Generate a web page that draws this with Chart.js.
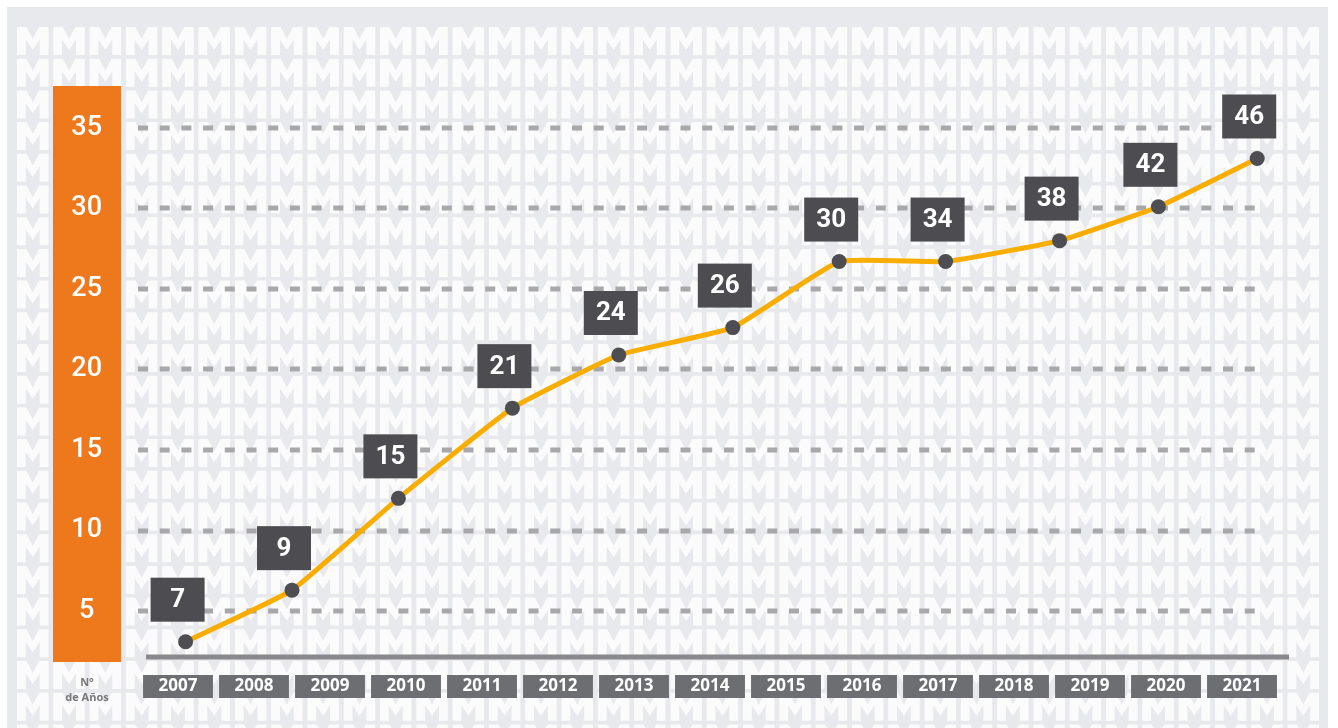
<!DOCTYPE html>
<html>
<head>
<meta charset="utf-8">
<script src="https://cdn.jsdelivr.net/npm/chart.js@4.4.1/dist/chart.umd.min.js"></script>
<style>
  html, body { margin: 0; padding: 0; background: #ffffff; }
  #chart { display: block; }
</style>
</head>
<body>
<canvas id="chart" width="1338" height="728"></canvas>
<script>
// Data
const years = [2007, 2008, 2009, 2010, 2011, 2012, 2013, 2014, 2015, 2016, 2017, 2018, 2019, 2020, 2021];
const pointYears = [2007.1, 2008.5, 2009.9, 2011.4, 2012.8, 2014.3, 2015.7, 2017.1, 2018.6, 2019.9, 2021.2];
const seriesValues = [3.1, 6.3, 12.0, 17.6, 20.9, 22.6, 26.7, 26.7, 28.0, 30.1, 33.1];
const pointLabels = [7, 9, 15, 21, 24, 26, 30, 34, 38, 42, 46];
const yTicks = [5, 10, 15, 20, 25, 30, 35];

// Background panel, "M" pattern and orange axis bar
const backgroundPlugin = {
    id: 'background',
    beforeDraw(chart) {
        const ctx = chart.ctx;
        const area = chart.chartArea;
        ctx.save();
        ctx.fillStyle = '#ffffff';
        ctx.fillRect(0, 0, chart.width, chart.height);
        ctx.fillStyle = '#e8e9ed';
        ctx.fillRect(7, 7, 1321, 721);

        ctx.beginPath();
        ctx.rect(7, 7, 1321, 721);
        ctx.clip();
        ctx.fillStyle = '#fbfbfc';
        const w = 31.5, h = 28;
        for (let r = 0; r < 23; r++) {
            for (let c = 0; c < 36; c++) {
                const x0 = 17 + c * 36.3;
                const y0 = 27 + r * 31.7;
                ctx.beginPath();
                ctx.moveTo(x0, y0);
                ctx.lineTo(x0 + w * 0.3, y0);
                ctx.lineTo(x0 + w * 0.5, y0 + h * 0.42);
                ctx.lineTo(x0 + w * 0.7, y0);
                ctx.lineTo(x0 + w, y0);
                ctx.lineTo(x0 + w, y0 + h);
                ctx.lineTo(x0 + w * 0.72, y0 + h);
                ctx.lineTo(x0 + w * 0.72, y0 + h * 0.45);
                ctx.lineTo(x0 + w * 0.5, y0 + h * 0.82);
                ctx.lineTo(x0 + w * 0.28, y0 + h * 0.45);
                ctx.lineTo(x0 + w * 0.28, y0 + h);
                ctx.lineTo(x0, y0 + h);
                ctx.closePath();
                ctx.fill();
            }
        }

        // orange y axis bar
        ctx.fillStyle = '#ee781c';
        ctx.fillRect(53, area.top, 68, area.bottom - area.top + 5);
        ctx.restore();
    },
    beforeDatasetsDraw(chart) {
        const ctx = chart.ctx;
        const area = chart.chartArea;
        const yScale = chart.scales.y;
        ctx.save();
        // dashed grid lines
        ctx.strokeStyle = '#a8a8aa';
        ctx.lineWidth = 5;
        ctx.setLineDash([10, 11.7]);
        yScale.ticks.forEach(t => {
            const y = Math.round(yScale.getPixelForValue(t.value));
            ctx.beginPath();
            ctx.moveTo(area.left - 2, y);
            ctx.lineTo(area.right - 18, y);
            ctx.stroke();
        });
        // base line
        ctx.setLineDash([]);
        ctx.strokeStyle = '#89888c';
        ctx.lineWidth = 5;
        ctx.beginPath();
        ctx.moveTo(area.left + 6, area.bottom);
        ctx.lineTo(area.right + 9, area.bottom);
        ctx.stroke();
        ctx.restore();
    },
    afterDatasetsDraw(chart) {
        const ctx = chart.ctx;
        const meta = chart.getDatasetMeta(0);
        ctx.save();
        ctx.font = 'bold 26px Roboto';
        ctx.textAlign = 'center';
        ctx.textBaseline = 'middle';
        meta.data.forEach((pt, i) => {
            const cx = pt.x - 8;
            const bottom = pt.y - 20;
            ctx.fillStyle = '#4d4c50';
            ctx.fillRect(cx - 27, bottom - 44, 54, 44);
            ctx.fillStyle = '#ffffff';
            ctx.fillText(String(pointLabels[i]), cx, bottom - 21);
        });
        ctx.restore();
    },
    afterDraw(chart) {
        const ctx = chart.ctx;
        ctx.save();
        ctx.fillStyle = '#77777a';
        ctx.font = 'bold 11px "Open Sans"';
        ctx.textAlign = 'center';
        ctx.textBaseline = 'middle';
        ctx.fillText('N°', 87, 683);
        ctx.fillText('de Años', 87, 698);
        ctx.restore();
    }
};

const ctx = document.getElementById('chart').getContext('2d');
new Chart(ctx, {
    type: 'line',
    data: {
        datasets: [{
            data: pointYears.map((x, i) => ({ x: x, y: seriesValues[i] })),
            borderColor: '#f8ad00',
            borderWidth: 5,
            tension: 0.12,
            pointRadius: 7.5,
            pointHoverRadius: 7.5,
            pointBackgroundColor: '#4e4d51',
            pointBorderWidth: 0
        }]
    },
    options: {
        responsive: false,
        animation: false,
        devicePixelRatio: 1,
        layout: { padding: { top: 86, left: 53, right: 58, bottom: 0 } },
        plugins: { legend: { display: false }, tooltip: { enabled: false } },
        scales: {
            x: {
                type: 'linear',
                min: 2006.5,
                max: 2021.5,
                afterBuildTicks: scale => { scale.ticks = years.map(v => ({ value: v })); },
                afterFit: scale => { scale.height = 71; },
                grid: { display: false },
                border: { display: false },
                ticks: {
                    autoSkip: false,
                    maxRotation: 0,
                    padding: 11.3,
                    color: '#ffffff',
                    font: { family: 'Open Sans', size: 17, weight: 'bold' },
                    callback: v => String(v),
                    showLabelBackdrop: true,
                    backdropColor: '#6d6e72',
                    backdropPadding: { top: 1.3, bottom: 1.3, left: 15.5, right: 15.5 }
                }
            },
            y: {
                min: 2.15,
                max: 37.6,
                afterBuildTicks: scale => { scale.ticks = yTicks.map(v => ({ value: v })); },
                afterFit: scale => { scale.width = 87; },
                grid: { display: false },
                border: { display: false },
                ticks: {
                    crossAlign: 'center',
                    padding: 30,
                    color: '#ffffff',
                    font: { family: 'Roboto', size: 27, weight: '500' }
                }
            }
        }
    },
    plugins: [backgroundPlugin]
});
</script>
</body>
</html>
